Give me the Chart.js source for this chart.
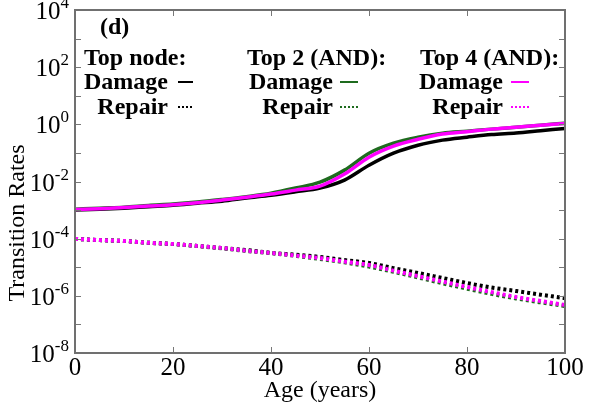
<!DOCTYPE html>
<html>
<head>
<meta charset="utf-8">
<title>Transition Rates</title>
<script src="https://cdn.jsdelivr.net/npm/chart.js@4.4.1/dist/chart.umd.min.js"></script>
<style>
  html, body { margin: 0; padding: 0; background: #fff; }
  #wrap { width: 598px; height: 411px; }
</style>
</head>
<body>
<div id="wrap"><canvas id="rateChart" width="598" height="411"></canvas></div>
<script>
// Data (age in years, rates on log axis)
const ages = [0, 5, 10, 15, 20, 25, 30, 35, 40, 45, 50, 55, 60, 65, 70, 75, 80, 85, 90, 95, 100];

const damageTopNode = [1.0e-3, 1.07e-3, 1.17e-3, 1.32e-3, 1.48e-3, 1.74e-3, 2.04e-3, 2.63e-3, 3.31e-3, 4.37e-3, 5.9e-3,
  1.12e-2, 3.7e-2, 9.8e-2, 0.186, 0.28, 0.355, 0.44, 0.50, 0.60, 0.72];
const damageTop2 = [1.07e-3, 1.17e-3, 1.26e-3, 1.45e-3, 1.62e-3, 1.9e-3, 2.34e-3, 2.95e-3, 3.9e-3, 5.9e-3, 9.5e-3,
  2.5e-2, 9.8e-2, 0.22, 0.355, 0.49, 0.575, 0.68, 0.79, 0.93, 1.1];
const damageTop4 = [1.05e-3, 1.12e-3, 1.23e-3, 1.38e-3, 1.55e-3, 1.82e-3, 2.24e-3, 2.82e-3, 3.63e-3, 5.0e-3, 6.9e-3,
  1.82e-2, 7.1e-2, 0.174, 0.30, 0.457, 0.55, 0.68, 0.79, 0.93, 1.07];

const repairTopNode = [9.8e-5, 8.9e-5, 8.3e-5, 7.2e-5, 6.5e-5, 5.5e-5, 4.7e-5, 4.0e-5, 3.2e-5, 2.75e-5, 2.3e-5,
  1.78e-5, 1.41e-5, 9.3e-6, 6.3e-6, 4.2e-6, 2.8e-6, 1.95e-6, 1.48e-6, 1.1e-6, 8.3e-7];
const repairTop2 = [9.8e-5, 8.9e-5, 8.3e-5, 7.2e-5, 6.5e-5, 5.5e-5, 4.6e-5, 3.7e-5, 3.1e-5, 2.5e-5, 1.95e-5,
  1.48e-5, 1.05e-5, 6.9e-6, 4.4e-6, 2.75e-6, 1.78e-6, 1.17e-6, 8.1e-7, 5.9e-7, 4.4e-7];
const repairTop4 = [9.8e-5, 8.9e-5, 8.3e-5, 7.2e-5, 6.5e-5, 5.5e-5, 4.7e-5, 3.8e-5, 3.16e-5, 2.57e-5, 2.1e-5,
  1.58e-5, 1.2e-5, 7.6e-6, 4.9e-6, 3.16e-6, 2.04e-6, 1.35e-6, 9.1e-7, 6.6e-7, 4.8e-7];

const xTickValues = [0, 20, 40, 60, 80, 100];
const yExponents = [-8, -7, -6, -5, -4, -3, -2, -1, 0, 1, 2, 3, 4];

const SERIF = "'Liberation Serif', 'Times New Roman', serif";
const GREEN = '#1e6b1e';
const MAGENTA = '#ff00ff';

function toPoints(values) {
  return ages.map((a, i) => ({ x: a, y: values[i] }));
}

function lineSet(label, values, color, dashed, order) {
  return {
    label: label,
    data: toPoints(values),
    borderColor: color,
    backgroundColor: color,
    borderWidth: dashed ? 4 : 3.5,
    borderDash: dashed ? [3, 3] : [],
    borderCapStyle: 'butt',
    pointRadius: 0,
    cubicInterpolationMode: 'monotone',
    fill: false,
    order: order
  };
}

// Frame, inward ticks, superscript labels, titles and the in-plot legend
const decorPlugin = {
  id: 'decor',
  afterDraw(chart) {
    const ctx = chart.ctx;
    const area = chart.chartArea;
    const xs = chart.scales.x;
    const ys = chart.scales.y;
    ctx.save();

    // tick marks pointing inward on all four sides
    ctx.strokeStyle = '#777';
    ctx.lineWidth = 1;
    xTickValues.forEach(v => {
      const px = Math.round(xs.getPixelForValue(v)) + 0.5;
      ctx.beginPath();
      ctx.moveTo(px, area.bottom); ctx.lineTo(px, area.bottom - 6);
      ctx.moveTo(px, area.top); ctx.lineTo(px, area.top + 6);
      ctx.stroke();
    });
    yExponents.forEach(e => {
      const py = Math.round(ys.getPixelForValue(Math.pow(10, e))) + 0.5;
      ctx.beginPath();
      ctx.moveTo(area.left, py); ctx.lineTo(area.left + 6, py);
      ctx.moveTo(area.right, py); ctx.lineTo(area.right - 6, py);
      ctx.stroke();
    });

    // frame
    ctx.strokeStyle = '#707070';
    ctx.lineWidth = 2;
    ctx.strokeRect(area.left, area.top, area.right - area.left, area.bottom - area.top);

    // y tick labels: 10 with superscript exponent
    ctx.fillStyle = '#000';
    ctx.textBaseline = 'alphabetic';
    yExponents.filter(e => e % 2 === 0).forEach(e => {
      const py = ys.getPixelForValue(Math.pow(10, e));
      const sup = e < 0 ? '-' + (-e) : String(e);
      ctx.font = '17px ' + SERIF;
      const wSup = ctx.measureText(sup).width;
      ctx.font = '25px ' + SERIF;
      const wBase = ctx.measureText('10').width;
      const right = 69;
      ctx.textAlign = 'left';
      ctx.fillText('10', right - wSup - wBase, py + 9);
      ctx.font = '17px ' + SERIF;
      ctx.fillText(sup, right - wSup, py - 2);
    });

    // axis titles
    ctx.font = '24px ' + SERIF;
    ctx.textAlign = 'center';
    ctx.textBaseline = 'middle';
    ctx.fillText('Age (years)', (area.left + area.right) / 2, 391);
    ctx.save();
    ctx.translate(18, 223);
    ctx.rotate(-Math.PI / 2);
    ctx.fillText('Transition Rates', 0, 0);
    ctx.restore();

    // legend inside the plot
    ctx.font = 'bold 24px ' + SERIF;
    ctx.textAlign = 'left';
    ctx.fillText('(d)', 100, 28);
    const groups = [
      { title: 'Top node:', left: 84, end: 168, s0: 178, s1: 193, color: '#000' },
      { title: 'Top 2 (AND):', left: 247, end: 333, s0: 340, s1: 358, color: GREEN },
      { title: 'Top 4 (AND):', left: 420, end: 503, s0: 511, s1: 529, color: MAGENTA }
    ];
    groups.forEach(g => {
      ctx.textAlign = 'left';
      ctx.fillStyle = '#000';
      ctx.fillText(g.title, g.left, 59);
      ctx.textAlign = 'right';
      ctx.fillText('Damage', g.end, 83);
      ctx.fillText('Repair', g.end, 108);
      ctx.strokeStyle = g.color;
      ctx.lineWidth = 2;
      ctx.setLineDash([]);
      ctx.beginPath(); ctx.moveTo(g.s0, 82); ctx.lineTo(g.s1, 82); ctx.stroke();
      ctx.setLineDash([2, 2]);
      ctx.beginPath(); ctx.moveTo(g.s0, 107); ctx.lineTo(g.s1, 107); ctx.stroke();
      ctx.setLineDash([]);
    });

    ctx.restore();
  }
};

const ctx = document.getElementById('rateChart').getContext('2d');
const rateChart = new Chart(ctx, {
  type: 'line',
  data: {
    datasets: [
      lineSet('Top node: Damage', damageTopNode, '#000', false, 2),
      lineSet('Top 2 (AND): Damage', damageTop2, GREEN, false, 1),
      lineSet('Top 4 (AND): Damage', damageTop4, MAGENTA, false, 0),
      lineSet('Top node: Repair', repairTopNode, '#000', true, 2),
      lineSet('Top 2 (AND): Repair', repairTop2, GREEN, true, 1),
      lineSet('Top 4 (AND): Repair', repairTop4, MAGENTA, true, 0)
    ]
  },
  options: {
    responsive: false,
    animation: false,
    devicePixelRatio: 1,
    layout: { padding: { top: 10, right: 33, left: 0, bottom: 0 } },
    plugins: {
      legend: { display: false },
      tooltip: { enabled: false }
    },
    scales: {
      x: {
        type: 'linear',
        min: 0,
        max: 100,
        afterBuildTicks: scale => { scale.ticks = xTickValues.map(v => ({ value: v })); },
        afterFit: scale => { scale.height = 58; },
        grid: { display: false, drawTicks: false },
        border: { display: false },
        ticks: {
          color: '#000',
          padding: 0,
          maxRotation: 0,
          font: { family: SERIF, size: 25 }
        }
      },
      y: {
        type: 'logarithmic',
        min: 1e-8,
        max: 1e4,
        afterBuildTicks: scale => { scale.ticks = yExponents.map(e => ({ value: Math.pow(10, e) })); },
        afterFit: scale => { scale.width = 75; },
        grid: { display: false, drawTicks: false },
        border: { display: false },
        ticks: { display: false }
      }
    }
  },
  plugins: [decorPlugin]
});
</script>
</body>
</html>
